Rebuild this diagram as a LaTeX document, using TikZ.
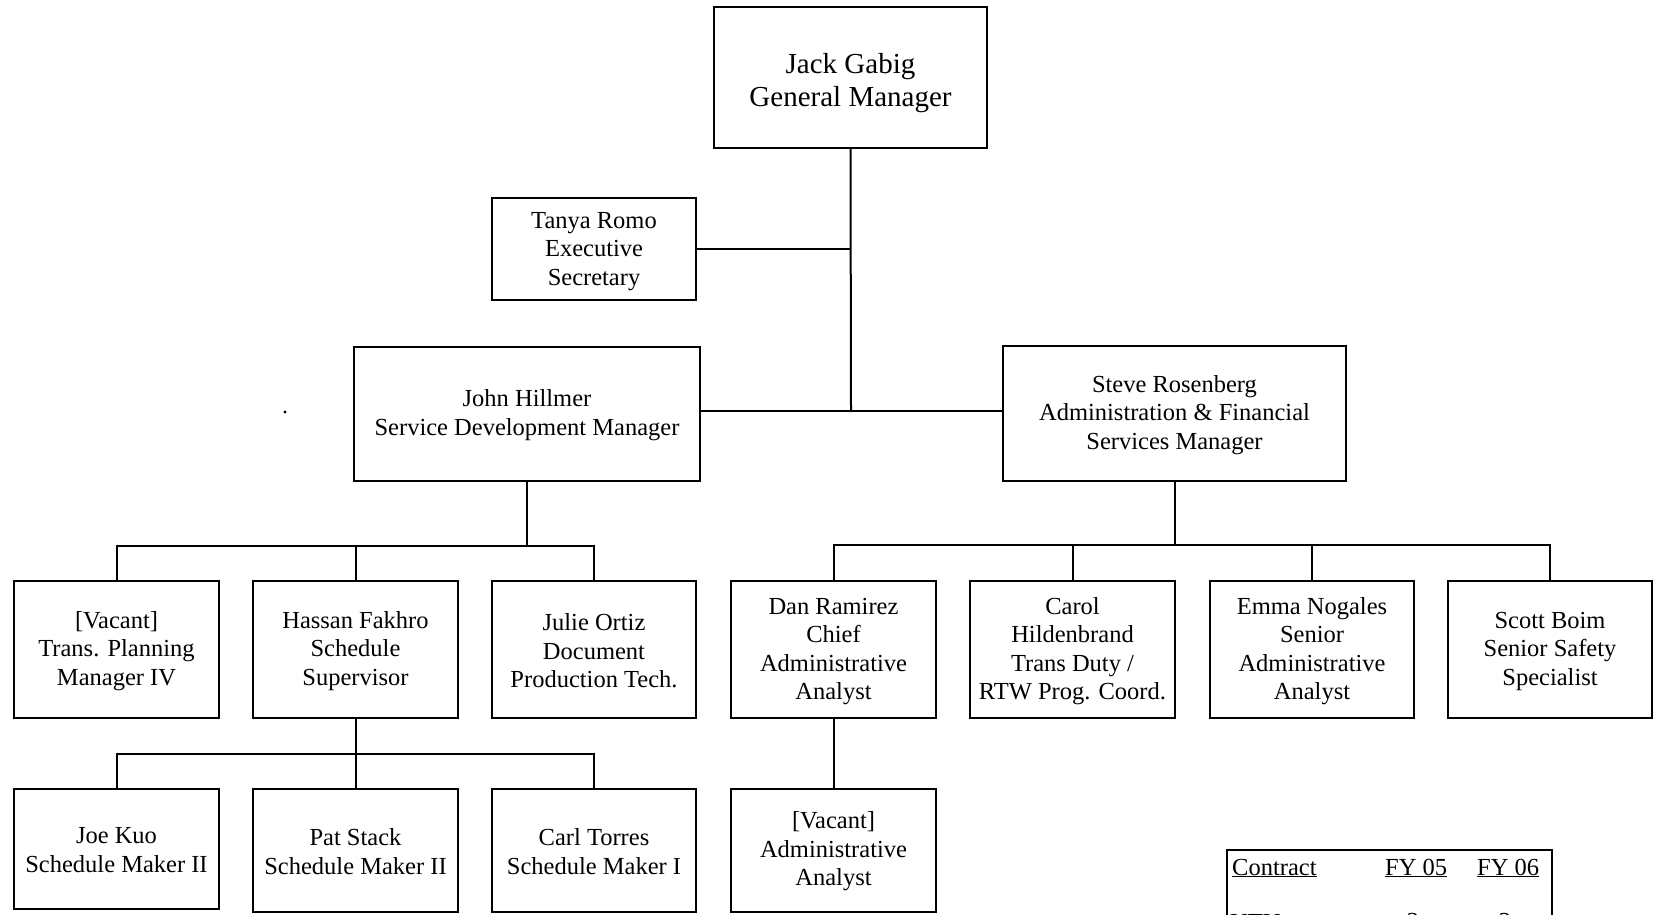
\documentclass[tikz,border=0pt]{standalone}
\usepackage{fontspec}
\setmainfont{Liberation Serif}
\newcommand\tstrut[1]{\rule{0pt}{#1}}
\begin{document}
\begin{tikzpicture}[x=1pt,y=-1pt,
  box/.style={draw, line width=2pt, align=center, inner sep=0pt, font=\fontsize{24.5}{28.5}\selectfont},
  conn/.style={line width=2pt},
  cell/.style={inner sep=0pt, font=\fontsize{24.5}{28.5}\selectfont}]
\useasboundingbox (0,0) rectangle (1654,915);
\fill[white] (0,0) rectangle (1654,915);
\clip (0,0) rectangle (1654,915);

% top
\node[box, minimum width=273pt, minimum height=141pt, font=\fontsize{29}{33}\selectfont] (GM) at (850.5,77.5) {\tstrut{31pt}Jack Gabig\\General Manager};
\node[box, minimum width=204pt, minimum height=102pt] (Tanya) at (594,248.5) {\tstrut{22pt}Tanya Romo\\Executive\\Secretary};
\node[box, minimum width=346pt, minimum height=134pt] (John) at (527,414) {\tstrut{19pt}John Hillmer\\Service Development Manager};
\node[box, minimum width=343pt, minimum height=135pt] (Steve) at (1174.5,413.5) {\tstrut{20pt}Steve Rosenberg\\Administration \& Financial\\Services Manager};

% row 2
\node[box, minimum width=205pt, minimum height=137pt] (Vac) at (116.5,649.5) {\tstrut{20pt}[Vacant]\\Trans. Planning\\Manager IV};
\node[box, minimum width=205pt, minimum height=137pt] (Hassan) at (355.5,649.5) {\tstrut{20pt}Hassan Fakhro\\Schedule\\Supervisor};
\node[box, minimum width=204pt, minimum height=137pt] (Julie) at (594,649.5) {\tstrut{20pt}Julie Ortiz\\Document\\Production Tech.};
\node[box, minimum width=205pt, minimum height=137pt] (Dan) at (833.5,649.5) {\tstrut{20pt}Dan Ramirez\\Chief\\Administrative\\Analyst};
\node[box, minimum width=205pt, minimum height=137pt] (Carol) at (1072.5,649.5) {\tstrut{20pt}Carol\\Hildenbrand\\Trans Duty /\\RTW Prog. Coord.};
\node[box, minimum width=204pt, minimum height=137pt] (Emma) at (1312,649.5) {\tstrut{20pt}Emma Nogales\\Senior\\Administrative\\Analyst};
\node[box, minimum width=204pt, minimum height=137pt] (Scott) at (1550,649.5) {\tstrut{20pt}Scott Boim\\Senior Safety\\Specialist};

% row 3
\node[box, minimum width=205pt, minimum height=120pt] (Joe) at (116.5,849) {\tstrut{18pt}Joe Kuo\\Schedule Maker II};
\node[box, minimum width=205pt, minimum height=123pt] (Pat) at (355.5,850.5) {\tstrut{19pt}Pat Stack\\Schedule Maker II};
\node[box, minimum width=204pt, minimum height=123pt] (Carl) at (594,850.5) {\tstrut{19pt}Carl Torres\\Schedule Maker I};
\node[box, minimum width=205pt, minimum height=123pt] (VacA) at (833.5,850.5) {\tstrut{19pt}[Vacant]\\Administrative\\Analyst};

% connectors
\coordinate (J1) at (851,411);
\draw[conn] (GM.south) -- (J1);
\draw[conn] (Tanya.east) -- (Tanya.east -| GM.south);
\draw[conn] (John.east |- J1) -- (Steve.west |- J1);

\coordinate (busL) at (0,546);
\draw[conn] (John.south) -- (John.south |- busL);
\draw[conn] (Vac.north) -- (Vac.north |- busL) -- (Julie.north |- busL) -- (Julie.north);
\draw[conn] (Hassan.north) -- (Hassan.north |- busL);

\coordinate (busR) at (0,545);
\draw[conn] (Steve.south) -- (Steve.south |- busR);
\draw[conn] (Dan.north) -- (Dan.north |- busR) -- (Scott.north |- busR) -- (Scott.north);
\draw[conn] (Carol.north) -- (Carol.north |- busR);
\draw[conn] (Emma.north) -- (Emma.north |- busR);

\coordinate (busH) at (0,754);
\draw[conn] (Hassan.south) -- (Pat.north);
\draw[conn] (Joe.north) -- (Joe.north |- busH) -- (Carl.north |- busH) -- (Carl.north);

\draw[conn] (Dan.south) -- (VacA.north);

% stray dot
\fill (285,412) circle (1.6pt);

% table
\node[draw, line width=2pt, minimum width=325pt, minimum height=140pt, inner sep=0pt] (tbl) at (1389.5,920) {};
\node[cell, anchor=base west] (hC) at (1232,875) {\underline{Contract}};
\node[cell, anchor=base west] (h5) at (1385,875) {\underline{FY 05}};
\node[cell, anchor=base west] (h6) at (1477,875) {\underline{FY 06}};
\node[cell, anchor=base west] (rU) at (1230,930) {UTU};
\node[cell, anchor=base] (r5) at (1413,929) {2};
\node[cell, anchor=base] (r6) at (1505,929) {2};
\end{tikzpicture}
\end{document}
